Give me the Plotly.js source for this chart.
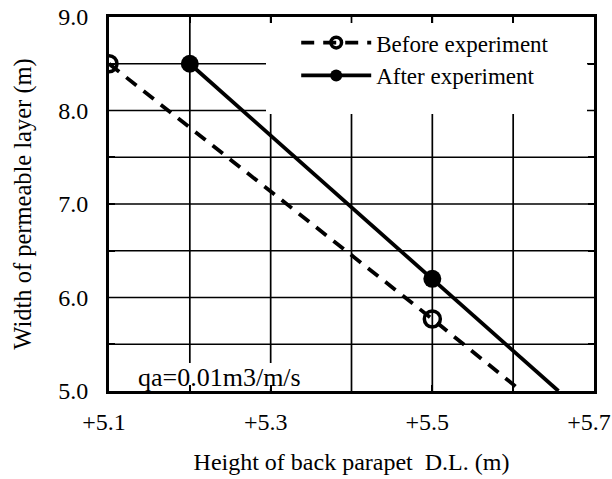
<!DOCTYPE html>
<html><head><meta charset="utf-8">
<script src="https://cdn.plot.ly/plotly-3.0.1.min.js"></script>
<style>body{margin:0;background:#fff}#c{width:612px;height:479px}</style>
</head><body><div id="c"></div>
<script>
const beforeX = [5.1, 5.5, 5.61];
const beforeY = [8.5, 5.77, 5.0];
const afterX = [5.2, 5.5, 5.656];
const afterY = [8.5, 6.2, 5.0];
const xRange = [5.1, 5.7];
const yRange = [5, 9];
const xTickVals = [5.1, 5.2, 5.3, 5.4, 5.5, 5.6, 5.7];
const xTickText = ['+5.1', '', '+5.3', '', '+5.5', '', '+5.7'];
const yTickVals = [5, 5.5, 6, 6.5, 7, 7.5, 8, 8.5, 9];
const yTickText = ['5.0', '', '6.0', '', '7.0', '', '8.0', '', '9.0'];
const seriesNames = ['Before experiment', 'After experiment'];
const noteText = 'qa=0.01m3/m/s';

const F = 'Liberation Serif, Times New Roman, serif';
const traces = [
  {x: beforeX, y: beforeY, name: seriesNames[0], mode: 'lines+markers',
   line: {color: '#000', width: 3.8, dash: '13px,9px'},
   marker: {symbol: 'circle-open', size: [16, 16, 0], color: '#000', opacity: 1, line: {width: 3.5, color: '#000'}}},
  {x: afterX, y: afterY, name: seriesNames[1], mode: 'lines+markers',
   line: {color: '#000', width: 3.8},
   marker: {symbol: 'circle', size: [18, 18, 0], color: '#000', opacity: 1, line: {width: 0}}}
];

// plot area in pixels (from the margins) used to place decorative masks
const L = 109, R = 594, T = 17, B = 391;
const dx = p => xRange[0] + (p - L) / (R - L) * (xRange[1] - xRange[0]);
const dy = p => yRange[0] + (B - p) / (B - T) * (yRange[1] - yRange[0]);

// grid lines as shapes (below traces) so white boxes can mask them
const shapes = [];
xTickVals.slice(1, -1).forEach(v => shapes.push({type: 'line', layer: 'below', xref: 'x', yref: 'y',
  x0: v, x1: v, y0: yRange[0], y1: yRange[1], line: {color: '#000', width: 1.7}}));
yTickVals.slice(1, -1).forEach(v => shapes.push({type: 'line', layer: 'below', xref: 'x', yref: 'y',
  x0: xRange[0], x1: xRange[1], y0: v, y1: v, line: {color: '#000', width: 1.7}}));
shapes.push({type: 'rect', layer: 'below', xref: 'x', yref: 'y',
  x0: dx(266), x1: dx(587), y0: dy(114), y1: dy(23), fillcolor: '#fff', line: {width: 0}});
shapes.push({type: 'rect', layer: 'below', xref: 'x', yref: 'y',
  x0: dx(112), x1: dx(311), y0: dy(389), y1: dy(363), fillcolor: '#fff', line: {width: 0}});

const axisCommon = {
  showline: true, linecolor: '#000', linewidth: 3, mirror: 'ticks',
  showgrid: false, ticklabeloverflow: 'allow',
  ticks: 'inside', ticklen: 6, tickcolor: '#000', tickwidth: 1.7, zeroline: false,
  tickfont: {family: F, size: 24, color: '#000'}
};
const layout = {
  width: 612, height: 479,
  margin: {l: L, r: 612 - R, t: T, b: 479 - B},
  paper_bgcolor: '#fff', plot_bgcolor: '#fff',
  font: {family: F, size: 23, color: '#000'},
  showlegend: true,
  legend: {x: 0.386, y: 0.989, xanchor: 'left', yanchor: 'top', bgcolor: 'rgba(0,0,0,0)',
           itemwidth: 70, font: {family: F, size: 23, color: '#000'}, tracegroupgap: 0},
  xaxis: Object.assign({range: xRange, tickvals: xTickVals, ticktext: xTickText,
          ticklabelstandoff: 7, ticklabelshift: -5,
          title: {text: 'Height of back parapet  D.L. (m)', font: {family: F, size: 24}, standoff: 20}}, axisCommon),
  yaxis: Object.assign({range: yRange, tickvals: yTickVals, ticktext: yTickText,
          ticklabelstandoff: 13,
          title: {text: 'Width of permeable layer (m)', font: {family: F, size: 24.5}, standoff: 20}}, axisCommon),
  shapes: shapes,
  annotations: [{xref: 'paper', yref: 'paper', x: (219 - L) / (R - L), y: (B - 377) / (B - T),
                 xanchor: 'center', yanchor: 'middle',
                 text: noteText, showarrow: false,
                 font: {family: F, size: 26, color: '#000'}}]
};
Plotly.newPlot('c', traces, layout, {staticPlot: true});
</script></body></html>
